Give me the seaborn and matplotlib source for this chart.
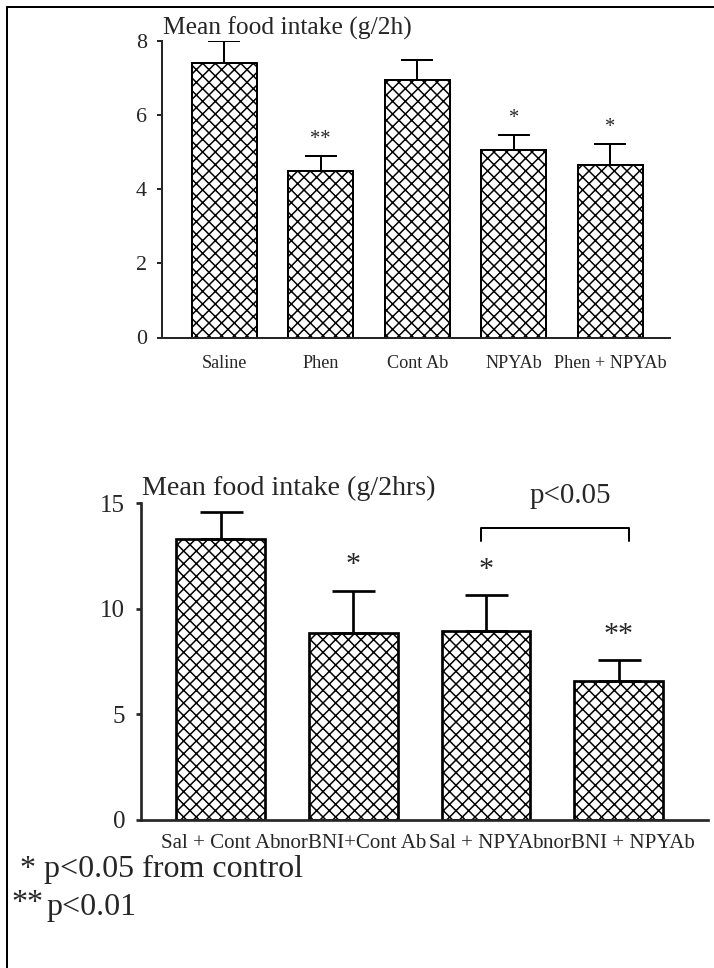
import numpy as np
import pandas as pd
import matplotlib
matplotlib.use("Agg")
import matplotlib.pyplot as plt
from matplotlib.lines import Line2D
import seaborn as sns

# ---- data -------------------------------------------------------------
top_groups = ["Saline", "Phen", "Cont Ab", "NPYAb", "Phen + NPYAb"]
top_means = [7.4, 4.5, 6.95, 5.05, 4.65]
top_sem = [0.6, 0.4, 0.52, 0.4, 0.57]
top_marks = ["", "**", "", "*", "*"]
top_ticks = [0, 2, 4, 6, 8]

bottom_groups = ["Sal + Cont Ab", "norBNI+Cont Ab", "Sal + NPYAb", "norBNI + NPYAb"]
bottom_means = [13.3, 8.85, 8.95, 6.55]
bottom_sem = [1.28, 2.0, 1.7, 1.0]
bottom_marks = ["", "*", "*", "**"]
bottom_ticks = [0, 5, 10, 15]

# ---- figure setup -----------------------------------------------------
W, H, DPI = 714, 968, 76
sns.set_style("ticks")
plt.rcParams["font.family"] = ["Liberation Serif", "DejaVu Serif"]


def pt(px):
    """Convert a size in output pixels to points."""
    return px * 72.0 / DPI


plt.rcParams["hatch.linewidth"] = pt(1.5)
plt.rcParams["hatch.color"] = "black"

fig = plt.figure(figsize=(W / DPI, H / DPI), dpi=DPI, facecolor="white")


def fx(px):
    return px / W


def fy(py):
    return 1 - py / H


def bar_panel(ax, groups, means, sem, marks, ticks, ymax, xlim,
              lw, cap, tick_fs, label_fs, star_fs, star_off, xpad, ypad):
    df = pd.DataFrame({"group": groups, "mean": means})
    sns.barplot(data=df, x="group", y="mean", order=groups, ax=ax,
                color="white", saturation=1, edgecolor="black",
                linewidth=pt(lw), width=0.67, errorbar=None, hatch="xx")
    n = len(groups)
    pos = np.arange(n)
    ax.errorbar(pos, means, yerr=[np.zeros(n), sem], fmt="none",
                ecolor="black", elinewidth=pt(lw), capsize=pt(cap),
                capthick=pt(lw), zorder=3)
    for i, mk in enumerate(marks):
        if mk:
            ax.text(i, means[i] + sem[i] + star_off, mk, ha="center",
                    va="center", fontsize=pt(star_fs))
    ax.set_xlim(*xlim)
    ax.set_ylim(0, ymax)
    ax.set_yticks(ticks)
    ax.set_xlabel("")
    ax.set_ylabel("")
    sns.despine(ax=ax)
    for sp in ("left", "bottom"):
        ax.spines[sp].set_linewidth(pt(lw))
    ax.tick_params(axis="y", direction="out", length=pt(5), width=pt(lw),
                   labelsize=pt(tick_fs), pad=pt(ypad))
    ax.tick_params(axis="x", length=0, labelsize=pt(label_fs), pad=pt(xpad))
    ax.set_facecolor("white")


# upper panel
ax1 = fig.add_axes([fx(161.7), fy(337.5), (670 - 161.7) / W, (337.5 - 40.7) / H])
bar_panel(ax1, top_groups, top_means, top_sem, top_marks, top_ticks, 8,
          (-0.648, 4.62), lw=2.0, cap=15.7, tick_fs=22, label_fs=18.3,
          star_fs=20.5, star_off=0.45, xpad=17, ypad=10)
fig.text(fx(163), fy(35), "Mean food intake (g/2h)", fontsize=pt(25.5),
         ha="left", va="baseline")

# lower panel
ax2 = fig.add_axes([fx(141), fy(819.5), (708 - 141) / W, (819.5 - 503.3) / H])
bar_panel(ax2, bottom_groups, bottom_means, bottom_sem, bottom_marks,
          bottom_ticks, 15, (-0.602, 3.675), lw=2.7, cap=21.5,
          tick_fs=25, label_fs=21, star_fs=30, star_off=1.2,
          xpad=14, ypad=11)
fig.text(fx(142), fy(495), "Mean food intake (g/2hrs)", fontsize=pt(28),
         ha="left", va="baseline")

# comparison bracket between the two NPYAb groups
y_br, y_leg = 13.82, 13.2
ax2.plot([1.964, 1.964, 3.08, 3.08], [y_leg, y_br, y_br, y_leg],
         color="black", lw=pt(2), clip_on=False)
ax2.text(2.635, 15.33, "p<0.05", ha="center", va="center", fontsize=pt(29),
         clip_on=False)

# footnotes
fig.text(fx(20), fy(877), "* p<0.05 from control", fontsize=pt(32),
         ha="left", va="baseline")
fig.text(fx(11), fy(911), "**", fontsize=pt(32), ha="left", va="baseline")
fig.text(fx(46), fy(915), "p<0.01", fontsize=pt(32), ha="left", va="baseline")

# page frame (top and left rules)
fig.add_artist(Line2D([fx(7), 1.0], [fy(7), fy(7)], color="black", lw=pt(2)))
fig.add_artist(Line2D([fx(7), fx(7)], [fy(7), 0.0], color="black", lw=pt(2)))

fig.savefig("out.png", dpi=DPI, facecolor="white")
